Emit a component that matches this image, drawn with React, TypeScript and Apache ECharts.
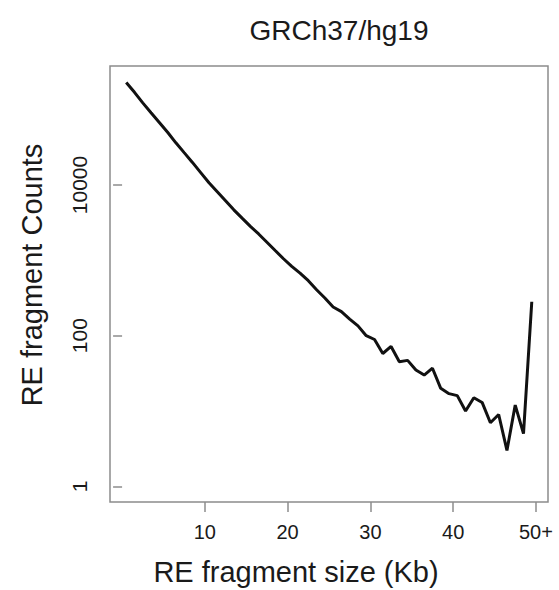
import React, { useEffect, useRef } from "react";
import * as echarts from "echarts";

// Fragment size bins (Kb), bin centres
const sizes = [
  0.5, 1.5, 2.5, 3.5, 4.5, 5.5, 6.5, 7.5, 8.5, 9.5,
  10.5, 11.5, 12.5, 13.5, 14.5, 15.5, 16.5, 17.5, 18.5, 19.5,
  20.5, 21.5, 22.5, 23.5, 24.5, 25.5, 26.5, 27.5, 28.5, 29.5,
  30.5, 31.5, 32.5, 33.5, 34.5, 35.5, 36.5, 37.5, 38.5, 39.5,
  40.5, 41.5, 42.5, 43.5, 44.5, 45.5, 46.5, 47.5, 48.5, 49.5,
];

// RE fragment counts per bin
const counts = [
  229000, 170000, 123000, 91000, 67600, 50100, 36300, 26900, 19950, 14600,
  10700, 8130, 6170, 4680, 3630, 2820, 2240, 1740, 1350, 1050,
  832, 676, 537, 407, 316, 240, 209, 166, 135, 100,
  89, 58, 72, 45, 47, 35, 30, 37, 20, 17,
  16, 10, 15, 13, 7, 9, 3, 12, 5, 282,
];

const xTicks = [10, 20, 30, 40, 50];
const xTickLabels = ["10", "20", "30", "40", "50+"];
const yTicks = [1, 100, 10000];
const yTickLabels = ["1", "100", "10000"];

const chartTitle = "GRCh37/hg19";
const xTitle = "RE fragment size (Kb)";
const yTitle = "RE fragment Counts";

const FONT = "'Liberation Sans', Arial, Helvetica, sans-serif";
const TEXT = "#1a1a1a";
const BOX = "#8c8c8c";

export default function App() {
  const ref = useRef<HTMLDivElement>(null);

  useEffect(() => {
    if (!ref.current) return;
    const chart = echarts.init(ref.current, undefined, { renderer: "svg" });
    chart.setOption({
      animation: false,
      backgroundColor: "#ffffff",
      grid: {
        left: 110,
        right: 11,
        top: 66,
        bottom: 88,
        show: true,
        borderColor: BOX,
        borderWidth: 1.5,
        backgroundColor: "transparent",
      },
      xAxis: {
        type: "value",
        min: -1.46,
        max: 51.46,
        axisLine: { show: false },
        splitLine: { show: false },
        axisTick: {
          show: true,
          inside: false,
          length: 10,
          customValues: xTicks,
          lineStyle: { color: BOX, width: 1.5 },
        },
        axisLabel: {
          customValues: xTicks,
          formatter: (v: number) => {
            const i = xTicks.indexOf(v);
            return i >= 0 ? xTickLabels[i] : "";
          },
          fontFamily: FONT,
          fontSize: 20,
          color: TEXT,
          margin: 20,
        },
      },
      yAxis: {
        type: "log",
        logBase: 10,
        min: 0.62,
        max: 380000,
        axisLine: { show: false },
        splitLine: { show: false },
        minorTick: { show: false },
        axisTick: {
          show: true,
          inside: false,
          length: 9,
          customValues: yTicks,
          lineStyle: { color: BOX, width: 1.5 },
        },
        axisLabel: {
          customValues: yTicks,
          rotate: 90,
          formatter: (v: number) => {
            const i = yTicks.findIndex((t) => Math.abs(t - v) / t < 1e-6);
            return i >= 0 ? yTickLabels[i] : "";
          },
          fontFamily: FONT,
          fontSize: 21,
          color: TEXT,
          margin: 20,
        },
      },
      graphic: [
        {
          type: "text",
          x: 339,
          y: 30,
          style: {
            text: chartTitle,
            fontFamily: FONT,
            fontSize: 28,
            fill: TEXT,
            textAlign: "center",
            textVerticalAlign: "middle",
          },
        },
        {
          type: "text",
          x: 296,
          y: 572,
          style: {
            text: xTitle,
            fontFamily: FONT,
            fontSize: 29,
            fill: TEXT,
            textAlign: "center",
            textVerticalAlign: "middle",
          },
        },
        {
          type: "text",
          x: 32,
          y: 275,
          rotation: Math.PI / 2,
          style: {
            text: yTitle,
            fontFamily: FONT,
            fontSize: 29,
            fill: TEXT,
            textAlign: "center",
            textVerticalAlign: "middle",
          },
        },
      ],
      series: [
        {
          type: "line",
          data: sizes.map((s, i) => [s, counts[i]]),
          symbol: "none",
          lineStyle: { color: "#111111", width: 3 },
          silent: true,
        },
      ],
    });
    return () => chart.dispose();
  }, []);

  return (
    <div
      ref={ref}
      style={{ position: "fixed", left: 0, top: 0, width: 559, height: 590 }}
    />
  );
}
